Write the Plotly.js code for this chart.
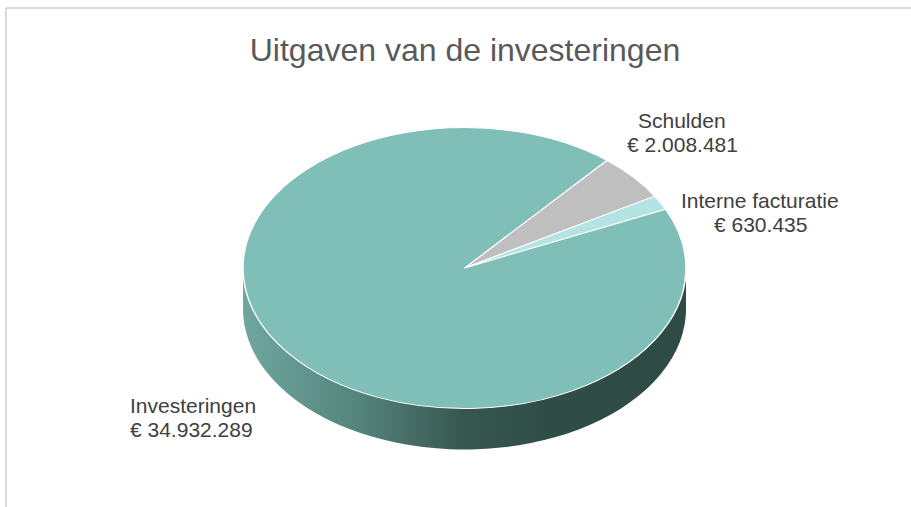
<!DOCTYPE html>
<html>
<head>
<meta charset="utf-8">
<script src="https://cdn.plot.ly/plotly-3.0.1.min.js"></script>
<style>
html,body{margin:0;padding:0;background:#fff;overflow:hidden;}
#chart{width:911px;height:507px;}
</style>
</head>
<body>
<div id="chart"></div>
<script>
// ---- data ----
const categories = ["Schulden", "Interne facturatie", "Investeringen"];
const values = [2008481, 630435, 34932289];
const topColors = ["#bfbfbf", "#b3e3e3", "#80bfb7"];
const chartTitle = "Uitgaven van de investeringen";

// ---- helpers ----
function fmt(v) {
  return "€ " + String(v).replace(/\B(?=(\d{3})+(?!\d))/g, ".");
}

const W = 911, H = 507;
const cx = 464.5, cy = 268, rx = 221.5, ry = 140.5;
const squash = ry / rx;
const sideOffsets = [41, 33, 25, 17, 9];

const domain = {
  x: [(cx - rx) / W, (cx + rx) / W],
  y: [1 - (cy + rx) / H, 1 - (cy - rx) / H]
};

const traces = [];
sideOffsets.forEach(function () {
  traces.push({
    type: "pie",
    labels: categories,
    values: values,
    sort: false,
    direction: "clockwise",
    rotation: 40,
    domain: domain,
    textinfo: "none",
    hoverinfo: "skip",
    showlegend: false,
    marker: { colors: ["#3f625c", "#3f625c", "#3f625c"], line: { width: 0 } }
  });
});
traces.push({
  type: "pie",
  labels: categories,
  values: values,
  sort: false,
  direction: "clockwise",
  rotation: 40,
  domain: domain,
  textinfo: "none",
  hoverinfo: "skip",
  showlegend: false,
  marker: { colors: topColors, line: { color: "#ffffff", width: 1.5 } }
});

// label anchor: x, y of line centres (px)
const labelPos = [
  { x: 682, y1: 120, y2: 144, xanchor: "center" },
  { x: 760, y1: 200, y2: 224, xanchor: "center" },
  { x: 128, y1: 405, y2: 429, xanchor: "left" }
];
const labelFont = { family: "Liberation Sans, Arial, sans-serif", size: 21, color: "#404040" };

const annotations = [];
categories.forEach(function (c, i) {
  const p = labelPos[i];
  [[c, p.y1], [fmt(values[i]), p.y2]].forEach(function (t) {
    annotations.push({
      xref: "paper", yref: "paper",
      x: p.x / W, y: 1 - t[1] / H,
      xanchor: p.xanchor, yanchor: "middle",
      showarrow: false,
      text: t[0],
      font: labelFont
    });
  });
});

const layout = {
  width: W, height: H,
  margin: { l: 0, r: 0, t: 0, b: 0 },
  paper_bgcolor: "#ffffff",
  plot_bgcolor: "#ffffff",
  showlegend: false,
  title: {
    text: chartTitle,
    x: 465 / W, xanchor: "center",
    y: 1 - 50 / H, yanchor: "middle",
    font: { family: "Liberation Sans, Arial, sans-serif", size: 32, color: "#595959" }
  },
  annotations: annotations,
  shapes: [
    { type: "line", xref: "paper", yref: "paper", x0: 6 / W, x1: 1, y0: 1 - 8 / H, y1: 1 - 8 / H,
      line: { color: "#d9d9d9", width: 2 } },
    { type: "line", xref: "paper", yref: "paper", x0: 6 / W, x1: 6 / W, y0: 0, y1: 1 - 8 / H,
      line: { color: "#d9d9d9", width: 2 } }
  ]
};

Plotly.newPlot("chart", traces, layout, { displayModeBar: false, staticPlot: true, responsive: false })
  .then(function (gd) {
    const svg = gd.querySelector(".main-svg");
    const ns = "http://www.w3.org/2000/svg";
    let defs = svg.querySelector("defs");
    if (!defs) { defs = document.createElementNS(ns, "defs"); svg.insertBefore(defs, svg.firstChild); }
    const grad = document.createElementNS(ns, "linearGradient");
    grad.setAttribute("id", "sideGrad");
    grad.setAttribute("gradientUnits", "userSpaceOnUse");
    grad.setAttribute("x1", cx - rx); grad.setAttribute("x2", cx + rx);
    grad.setAttribute("y1", 0); grad.setAttribute("y2", 0);
    [["0", "#6fa79e"], ["0.25", "#55867e"], ["0.5", "#37564f"], ["0.7", "#2f4c47"], ["1", "#2f4b46"]]
      .forEach(function (s) {
        const st = document.createElementNS(ns, "stop");
        st.setAttribute("offset", s[0]);
        st.setAttribute("stop-color", s[1]);
        grad.appendChild(st);
      });
    defs.appendChild(grad);

    const groups = gd.querySelectorAll(".pielayer g.trace");
    groups.forEach(function (g, i) {
      const off = i < sideOffsets.length ? sideOffsets[i] : 0;
      g.setAttribute("transform",
        "translate(0," + (cy * (1 - squash) + off) + ") scale(1," + squash + ")");
      if (i < sideOffsets.length) {
        g.querySelectorAll("path.surface").forEach(function (p) {
          p.style.fill = "url(#sideGrad)";
        });
      }
    });
  });
</script>
</body>
</html>
